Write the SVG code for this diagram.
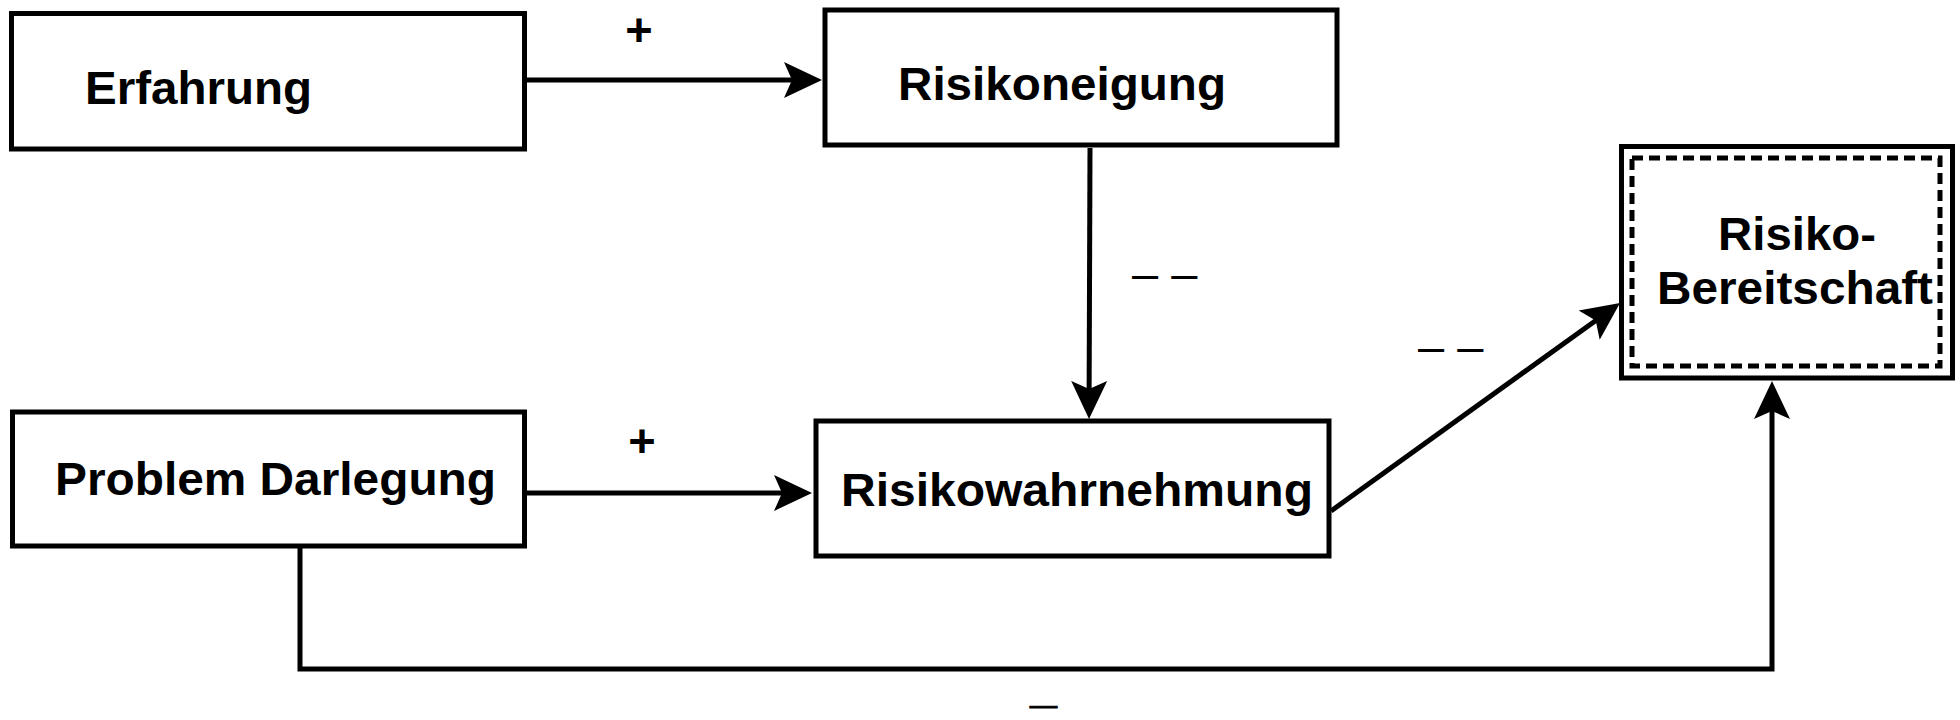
<svg xmlns="http://www.w3.org/2000/svg" width="1960" height="720" viewBox="0 0 1960 720">
<style>
.box{fill:#fff;stroke:#000;stroke-width:5}
.dash{fill:none;stroke:#000;stroke-width:5;stroke-dasharray:11 6}
.lbl{font-family:"Liberation Sans",Arial,sans-serif;font-weight:bold;font-size:47px;fill:#000}
.sign{font-family:"Liberation Sans",Arial,sans-serif;font-size:47px;fill:#000}
.conn{fill:none;stroke:#000;stroke-width:5}
</style>
<defs>
<marker id="arr" markerUnits="userSpaceOnUse" viewBox="0 -19 39 38" markerWidth="39" markerHeight="38" refX="18" refY="0" orient="auto">
<path d="M38,0 L0,-18 L8,0 L0,18 Z" fill="#000"/>
</marker>
</defs>
<g id="connectors">
<path class="conn" d="M527,80 L802,80" marker-end="url(#arr)"/>
<path class="conn" d="M1090,148 L1089.1,399" marker-end="url(#arr)"/>
<path class="conn" d="M527,493 L792,493" marker-end="url(#arr)"/>
<path class="conn" d="M1331,511 L1603.8,314.7" marker-end="url(#arr)"/>
<path class="conn" d="M300,548 L300,669 L1772,669 L1772,401" marker-end="url(#arr)"/>
<text class="lbl" x="639" y="46" text-anchor="middle">+</text>
<text class="lbl" x="642" y="457" text-anchor="middle">+</text>
<text class="sign" x="1132" y="289">– –</text>
<text class="sign" x="1418" y="362">– –</text>
<text class="sign" x="1030" y="714" style="font-size:26px;stroke:#000;stroke-width:0.8" textLength="27" lengthAdjust="spacingAndGlyphs">–</text>
</g>
<g id="erfahrung">
<rect class="box" x="11.5" y="13.5" width="513" height="135.5"/>
<text class="lbl" x="85" y="104" textLength="227" lengthAdjust="spacingAndGlyphs">Erfahrung</text>
</g>
<g id="risikoneigung">
<rect class="box" x="825" y="10" width="512" height="135"/>
<text class="lbl" x="898" y="100" textLength="328" lengthAdjust="spacingAndGlyphs">Risikoneigung</text>
</g>
<g id="problem-darlegung">
<rect class="box" x="12.5" y="412" width="512" height="134"/>
<text class="lbl" x="55" y="495" textLength="441" lengthAdjust="spacingAndGlyphs">Problem Darlegung</text>
</g>
<g id="risikowahrnehmung">
<rect class="box" x="816" y="421" width="513" height="135"/>
<text class="lbl" x="841" y="506" textLength="472" lengthAdjust="spacingAndGlyphs">Risikowahrnehmung</text>
</g>
<g id="risiko-bereitschaft">
<rect class="box" x="1621.5" y="146.5" width="331" height="231.5"/>
<rect class="dash" x="1632" y="158" width="308" height="208"/>
<text class="lbl" x="1797" y="250" text-anchor="middle" textLength="158" lengthAdjust="spacingAndGlyphs">Risiko-</text>
<text class="lbl" x="1795" y="304" text-anchor="middle" textLength="276" lengthAdjust="spacingAndGlyphs">Bereitschaft</text>
</g>
</svg>
